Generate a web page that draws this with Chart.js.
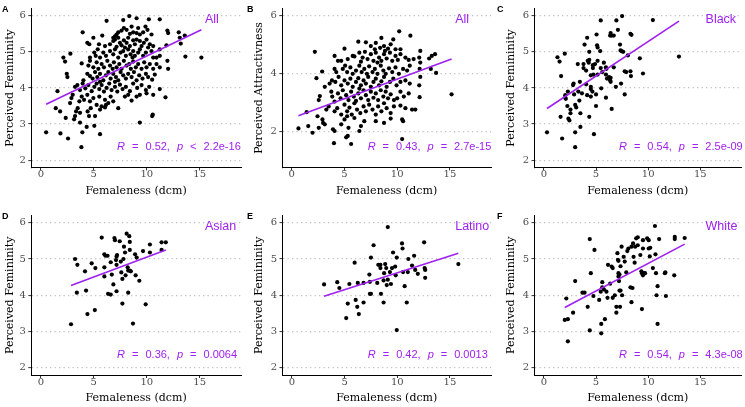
<!DOCTYPE html>
<html><head><meta charset="utf-8">
<script src="https://cdn.jsdelivr.net/npm/chart.js@4"></script>
<style>
html,body{margin:0;padding:0;background:#fff;width:745px;height:407px;overflow:hidden}
#wrap{position:relative;width:745px;height:407px;background:#fff}
canvas{position:absolute}
</style>
</head><body><div id="wrap"></div>
<script>
// ---------- DATA ----------
const xTicks = [0, 5, 10, 15];
const femTicks = [2, 3, 4, 5, 6];
const attrTicks = [2, 4, 6];
const groups = ['All', 'All', 'Black', 'Asian', 'Latino', 'White'];
const rVals = ['0.52', '0.43', '0.54', '0.36', '0.42', '0.54'];
const pOps = ['<', '=', '=', '=', '=', '='];
const pVals = ['2.2e-16', '2.7e-15', '2.5e-09', '0.0064', '0.0013', '4.3e-08'];

const allFem = [[6.21,5.86],[7.78,5.88],[8.35,5.99],[9.04,5.93],[10.20,5.90],[11.23,5.90],
[3.95,5.54],[5.80,5.45],[7.15,5.48],[7.31,5.54],[7.62,5.59],[7.84,5.66],[8.10,5.61],[8.41,5.50],[8.72,5.54],[9.04,5.52],[9.35,5.48],[9.66,5.54],[9.88,5.70],[10.07,5.61],[10.45,5.48],[11.95,5.59],[12.02,5.52],[13.02,5.54],[13.59,5.45],[7.00,5.43],[6.84,5.39],[8.57,5.70],[9.19,5.66],
[4.39,5.25],[4.58,5.21],[4.96,5.39],[5.49,5.21],[6.06,5.16],[6.53,5.21],[6.84,5.30],[7.00,5.34],[7.31,5.39],[7.47,5.25],[7.62,5.18],[7.84,5.32],[8.10,5.25],[8.25,5.39],[8.41,5.16],[8.72,5.32],[8.88,5.21],[9.04,5.34],[9.35,5.30],[9.51,5.16],[9.73,5.25],[9.98,5.34],[10.29,5.21],[10.61,5.16],[11.23,5.07],[11.86,5.18],[13.12,5.39],[13.21,5.23],[7.15,5.14],[7.94,5.12],
[2.13,4.84],[2.79,4.95],[5.05,4.98],[5.18,4.89],[5.37,5.07],[5.59,4.84],[5.90,4.98],[6.15,4.89],[6.53,5.02],[6.84,4.93],[7.00,5.07],[7.31,4.84],[7.53,4.98],[7.78,5.02],[8.03,4.89],[8.25,5.07],[8.47,4.93],[8.72,5.02],[8.88,4.89],[9.19,4.98],[9.35,5.07],[9.66,4.89],[9.92,4.98],[10.13,5.12],[10.45,5.02],[10.61,4.84],[10.92,4.84],[13.65,4.87],[15.16,4.84],[11.23,4.89],[8.66,4.84],
[2.29,4.73],[3.86,4.68],[4.49,4.62],[4.64,4.75],[4.96,4.57],[5.27,4.71],[5.43,4.53],[5.74,4.66],[5.96,4.57],[6.28,4.75],[6.53,4.62],[6.78,4.53],[6.90,4.71],[7.15,4.57],[7.41,4.66],[7.62,4.53],[7.84,4.75],[8.10,4.62],[8.35,4.66],[8.50,4.53],[8.72,4.73],[8.97,4.57],[9.19,4.66],[9.51,4.53],[9.76,4.71],[9.98,4.57],[10.29,4.66],[10.61,4.53],[10.92,4.66],[11.23,4.57],[11.95,4.75],[12.02,4.53],[4.64,4.84],
[2.45,4.39],[2.51,4.30],[4.02,4.21],[4.39,4.39],[4.64,4.33],[4.89,4.26],[5.12,4.44],[5.33,4.30],[5.59,4.39],[5.90,4.21],[6.15,4.35],[6.37,4.44],[6.59,4.26],[6.84,4.39],[7.09,4.30],[7.31,4.21],[7.53,4.44],[7.78,4.35],[8.03,4.26],[8.25,4.39],[8.57,4.30],[8.79,4.44],[9.04,4.21],[9.29,4.35],[9.60,4.26],[9.92,4.39],[10.13,4.30],[10.51,4.23],[10.76,4.37],[5.59,4.17],[7.00,4.17],
[1.57,3.91],[3.23,4.03],[3.45,4.08],[3.70,3.94],[3.95,4.12],[4.20,3.99],[4.49,4.08],[4.80,3.91],[5.05,4.03],[5.27,4.12],[5.52,3.97],[5.74,4.08],[5.96,3.90],[6.21,4.00],[6.46,4.12],[6.68,3.94],[7.00,4.03],[7.22,3.90],[7.47,4.09],[7.72,3.97],[8.03,4.03],[8.41,3.91],[8.72,4.12],[9.10,4.00],[9.51,4.08],[9.92,3.94],[10.23,4.03],[11.23,3.97],
[2.76,3.58],[2.89,3.72],[3.01,3.81],[3.64,3.63],[3.86,3.76],[4.08,3.67],[4.39,3.81],[4.64,3.63],[4.96,3.72],[5.27,3.53],[5.52,3.76],[5.74,3.49],[6.06,3.67],[6.37,3.58],[6.59,3.76],[6.84,3.63],[7.31,3.44],[7.94,3.76],[8.25,3.81],[8.57,3.65],[9.04,3.76],[9.35,3.81],[9.98,3.85],[11.77,3.74],[10.61,3.81],
[1.41,3.44],[1.82,3.35],[2.35,3.17],[3.14,3.13],[3.23,3.22],[3.33,3.35],[3.48,3.44],[3.70,3.31],[4.42,3.35],[4.55,3.22],[4.71,3.44],[5.12,3.22],[5.59,3.40],[6.06,3.46],[6.15,3.53],[10.51,3.22],[10.57,3.26],
[0.50,2.77],[1.85,2.74],[2.57,2.60],[3.83,2.36],[3.92,2.77],[5.59,2.72],[5.05,2.95],[4.33,2.92],[9.35,3.04],[3.70,3.04]];

const allAttr = [[7.03,5.08],[7.50,4.95],[7.97,5.06],[8.38,4.89],[8.50,5.23],[8.75,4.95],[9.13,4.86],[9.38,5.01],[9.84,4.84],[10.19,5.46],[11.25,5.31],[5.00,4.86],[6.31,5.10],[9.63,5.18],[10.31,4.84],[7.88,4.84],[8.84,4.78],
[4.06,4.61],[4.38,4.44],[4.69,4.44],[5.31,4.50],[5.78,4.61],[5.94,4.59],[6.41,4.72],[6.72,4.55],[6.94,4.75],[7.19,4.50],[7.50,4.67],[7.75,4.44],[7.97,4.72],[8.28,4.55],[8.50,4.44],[8.75,4.67],[9.00,4.52],[9.31,4.72],[9.53,4.44],[9.84,4.61],[10.06,4.47],[10.31,4.67],[10.78,4.55],[11.09,4.47],[11.56,4.50],[12.19,4.78],[12.09,4.55],[12.19,4.38],[13.03,4.52],[13.28,4.61],[13.59,4.67],[2.19,4.75],[6.56,4.41],[8.13,4.38],
[2.88,4.07],[4.22,4.05],[4.84,4.16],[5.06,4.27],[5.25,4.05],[5.56,4.21],[5.78,3.99],[6.09,4.10],[6.41,4.27],[6.63,4.05],[6.88,4.16],[7.13,3.99],[7.34,4.25],[7.66,4.05],[7.88,4.16],[8.13,3.99],[8.44,4.27],[8.69,4.10],[8.91,3.99],[9.22,4.18],[9.53,4.05],[9.84,4.21],[10.16,3.99],[10.56,4.16],[10.94,4.10],[11.19,4.27],[12.13,4.16],[13.19,4.16],[13.69,4.02],[4.06,4.16],
[2.34,3.84],[3.13,3.54],[3.59,3.65],[3.81,3.76],[4.13,3.71],[4.44,3.88],[4.69,3.59],[5.00,3.76],[5.31,3.65],[5.56,3.82],[5.78,3.54],[6.09,3.71],[6.31,3.84],[6.56,3.59],[6.81,3.76],[7.03,3.65],[7.25,3.88],[7.50,3.54],[7.75,3.71],[7.97,3.82],[8.28,3.59],[8.50,3.73],[8.75,3.88],[9.00,3.54],[9.31,3.71],[9.63,3.82],[9.94,3.59],[10.31,3.71],[10.78,3.76],[11.19,3.65],[12.19,3.88],[12.09,3.59],[6.41,3.48],
[2.56,3.08],[2.66,3.22],[3.75,3.37],[3.84,3.20],[4.06,3.03],[4.38,3.31],[4.63,3.14],[4.84,3.42],[5.16,3.25],[5.38,3.08],[5.63,3.37],[5.88,3.20],[6.09,3.05],[6.31,3.31],[6.56,3.14],[6.81,3.42],[7.03,3.25],[7.25,3.08],[7.50,3.37],[7.75,3.16],[7.97,3.31],[8.19,3.08],[8.44,3.42],[8.69,3.20],[8.91,3.37],[9.13,3.14],[9.38,3.28],[9.69,3.08],[10.00,3.14],[10.31,3.37],[10.63,3.20],[11.09,3.31],[12.13,3.18],[15.16,3.28],
[3.28,2.75],[3.50,2.86],[2.44,2.52],[4.06,2.69],[4.31,2.80],[4.69,2.58],[5.00,2.92],[5.25,2.69],[5.47,2.82],[5.69,2.58],[5.94,2.97],[6.19,2.75],[6.50,2.63],[6.81,2.86],[7.03,2.69],[7.34,2.92],[7.66,2.75],[7.97,2.58],[8.19,2.86],[8.50,2.69],[8.75,2.97],[9.00,2.80],[9.38,2.63],[9.69,2.86],[10.31,2.89],[10.78,2.80],[11.41,2.75],[11.72,2.75],[1.41,2.66],[5.25,2.52],
[0.63,2.10],[1.56,2.18],[1.97,1.95],[2.56,2.12],[2.91,2.41],[2.97,2.29],[3.13,2.24],[3.91,2.07],[4.06,2.01],[4.69,2.24],[5.00,2.41],[5.38,2.12],[6.41,2.01],[6.56,2.18],[6.88,2.35],[7.97,2.35],[8.75,2.29],[9.38,2.44],[10.47,2.41],[10.56,2.35],[5.94,2.46],
[4.00,1.59],[5.16,1.79],[5.31,1.84],[5.63,1.56],[10.47,1.73]];

const black = [[0.3,2.77],[1.3,4.85],[1.5,4.73],[1.65,4.33],[1.6,3.2],[1.75,2.6],[2.0,4.95],[2.05,3.8],[2.05,3.73],[2.1,3.7],[2.3,3.9],[2.25,3.5],[2.35,3.15],[2.45,3.1],[2.55,3.4],[2.55,3.3],[2.8,4.08],[2.85,4.12],[2.9,3.82],[3.0,3.53],[3.1,3.46],[3.0,2.77],[3.0,2.36],[3.25,4.66],[3.3,3.9],[3.4,3.65],[3.45,4.17],[3.5,3.3],[3.5,2.92],[3.65,3.85],[3.8,4.66],[3.8,4.55],[3.9,5.2],[4.05,4.48],[4.05,4.1],[4.15,5.39],[4.15,3.8],[4.2,4.75],[4.3,4.7],[4.35,4.78],[4.35,5.0],[4.35,3.2],[4.5,4.03],[4.5,3.97],[4.5,4.35],[4.5,3.76],[4.65,3.9],[4.7,4.63],[4.7,4.55],[4.8,2.72],[4.75,4.37],[4.9,4.66],[5.0,3.82],[5.0,3.5],[5.05,5.48],[5.1,5.18],[5.15,5.12],[5.15,4.75],[5.15,4.37],[5.4,5.02],[5.45,5.87],[5.45,4.55],[5.5,3.99],[5.6,4.44],[5.75,4.7],[5.95,4.57],[6.0,4.53],[5.95,4.37],[5.95,3.73],[6.05,4.26],[6.25,4.3],[6.35,4.21],[6.4,4.28],[6.35,5.45],[6.4,5.52],[6.5,5.45],[6.4,4.17],[6.5,3.42],[6.7,4.57],[6.7,5.45],[6.9,4.03],[6.95,5.87],[7.1,5.61],[7.3,5.2],[7.35,5.04],[7.45,5.02],[7.4,4.12],[7.5,5.99],[7.6,5.0],[7.75,3.82],[7.75,4.46],[7.9,4.44],[8.05,4.9],[8.3,4.46],[8.3,5.5],[8.4,5.47],[8.35,4.33],[9.2,4.82],[9.5,4.4],[10.45,5.88],[12.95,4.87]];

const asian = [[2.85,3.2],[3.23,5.0],[3.45,4.84],[3.4,4.07],[4.17,4.66],[4.27,4.13],[4.4,3.48],[4.8,4.88],[5.1,3.59],[5.15,4.75],[5.75,5.59],[6.0,5.13],[6.1,5.09],[6.3,5.09],[6.0,4.77],[6.0,4.52],[6.35,4.04],[6.6,4.02],[6.6,4.91],[6.7,4.57],[6.85,4.3],[6.95,5.58],[7.0,5.52],[7.1,4.97],[7.15,5.07],[7.15,4.84],[7.2,5.11],[7.15,4.11],[7.45,5.49],[7.55,4.93],[7.6,4.63],[7.7,3.77],[7.8,5.0],[7.7,4.45],[7.85,5.34],[7.95,5.18],[8.0,4.55],[8.1,5.7],[8.2,4.77],[8.25,4.68],[8.25,4.07],[8.35,5.63],[8.4,5.47],[8.4,5.25],[8.4,4.68],[8.5,4.66],[8.7,3.22],[8.9,5.13],[8.95,4.55],[9.05,5.04],[9.3,4.4],[9.65,5.22],[9.9,3.75],[10.3,5.18],[10.3,5.4],[11.4,5.46],[11.4,5.25],[11.8,5.46]];

const latino = [[3.05,4.3],[4.3,4.36],[4.5,4.2],[5.15,3.37],[5.3,3.77],[5.45,4.31],[5.95,4.9],[6.05,3.87],[6.2,3.68],[6.25,4.34],[6.35,3.48],[6.8,4.34],[6.8,3.8],[7.35,4.57],[7.4,4.37],[7.4,4.04],[7.5,4.04],[7.5,5.04],[7.75,5.38],[8.1,4.34],[8.2,4.84],[8.4,4.84],[8.4,4.75],[8.45,4.04],[8.7,3.8],[8.7,4.41],[8.75,4.61],[8.85,4.86],[8.95,4.75],[9.0,4.28],[9.1,5.88],[9.1,4.43],[9.3,4.64],[9.4,4.31],[9.5,4.75],[9.6,5.18],[9.8,4.79],[9.85,4.55],[9.95,5.04],[9.95,3.04],[10.45,5.43],[10.5,5.29],[10.55,4.64],[10.7,4.25],[10.9,3.8],[11.0,4.64],[11.05,5.0],[11.4,4.82],[11.6,5.09],[11.7,4.7],[11.95,4.59],[12.55,5.46],[12.6,4.75],[12.65,4.7],[12.65,4.48],[15.8,4.86]];

const white = [[2.0,3.32],[2.15,3.91],[2.3,3.34],[2.3,2.73],[2.8,3.52],[3.0,4.39],[3.7,4.07],[3.9,4.07],[4.2,3.68],[4.4,5.55],[4.4,3.03],[4.5,4.61],[4.75,3.98],[4.85,5.25],[5.3,3.87],[5.45,4.1],[5.5,2.95],[5.5,3.21],[5.6,4.36],[5.6,4.22],[5.75,4.16],[5.85,3.34],[6.0,4.1],[6.1,3.93],[6.15,4.84],[6.35,4.32],[6.5,4.79],[6.6,4.75],[6.6,3.93],[6.8,4.0],[6.95,3.52],[6.95,3.68],[7.05,5.16],[7.1,4.98],[7.15,4.95],[7.15,4.61],[7.15,4.52],[7.25,4.57],[7.2,4.39],[7.25,4.13],[7.35,4.13],[7.3,3.68],[7.35,4.8],[7.45,5.34],[7.5,4.0],[7.65,5.06],[7.75,4.93],[7.9,4.63],[8.0,5.22],[8.1,5.29],[8.3,4.22],[8.4,5.34],[8.4,3.81],[8.5,4.2],[8.55,5.43],[8.6,5.06],[8.7,4.9],[8.75,5.34],[8.85,5.57],[9.0,5.6],[9.0,5.38],[9.25,5.11],[9.35,4.66],[9.4,4.61],[9.4,3.62],[9.5,5.52],[9.5,5.29],[9.5,4.55],[9.6,4.61],[9.7,4.61],[9.9,5.57],[10.05,5.52],[10.05,5.29],[10.2,5.31],[10.15,5.07],[10.45,4.75],[10.65,5.91],[10.7,5.13],[10.75,4.61],[10.8,4.0],[10.9,4.25],[10.9,3.21],[11.05,5.55],[11.6,4.61],[11.65,4.63],[11.7,3.98],[12.5,4.55],[12.55,5.61],[12.55,5.55],[13.5,5.58]];

// regression line end points
const fitAll = [[0.5,3.55],[15.16,5.61]];
const fitAttr = [[0.63,2.54],[15.16,4.50]];
const fitBlack = [[0.3,3.43],[12.95,5.85]];
const fitAsian = [[2.85,4.27],[11.8,5.25]];
const fitLatino = [[3.05,3.97],[15.8,5.16]];
const fitWhite = [[2.0,3.66],[13.5,5.41]];

// ---------- LAYOUT ----------
const PURPLE = '#A020F0';
const SERIF = "'DejaVu Serif', serif";
const SANS = "'Liberation Sans', Arial, sans-serif";
const panels = [
  {letter:'A', pts:allFem, fit:fitAll, yt:femTicks, ymin:1.8, ymax:6.2, ytitle:'Perceived Femininity', g:0, cx:0, cy:0, w:245, h:200, l:31.3, r:241, t:4.9, b:167.4, tp:4},
  {letter:'B', pts:allAttr, fit:fitAttr, yt:attrTicks, ymin:0.75, ymax:6.25, ytitle:'Perceived Attractivness', g:1, cx:245, cy:0, w:250, h:200, l:37.3, r:248.4, t:4.9, b:167.4, tp:7.5},
  {letter:'C', pts:black, fit:fitBlack, yt:femTicks, ymin:1.8, ymax:6.2, ytitle:'Perceived Femininity', g:2, cx:495, cy:0, w:250, h:200, l:39.5, r:249, t:4.9, b:167.4, tp:9.5},
  {letter:'D', pts:asian, fit:fitAsian, yt:femTicks, ymin:1.8, ymax:6.2, ytitle:'Perceived Femininity', g:3, cx:0, cy:207, w:245, h:200, l:31.3, r:241, t:6.3, b:168, tp:4},
  {letter:'E', pts:latino, fit:fitLatino, yt:femTicks, ymin:1.8, ymax:6.2, ytitle:'Perceived Femininity', g:4, cx:245, cy:207, w:250, h:200, l:37.5, r:248.4, t:6.3, b:168, tp:7.5},
  {letter:'F', pts:white, fit:fitWhite, yt:femTicks, ymin:1.8, ymax:6.2, ytitle:'Perceived Femininity', g:5, cx:495, cy:207, w:250, h:200, l:39.5, r:249, t:6.3, b:168, tp:9.5}
];

const annot = {
  id: 'annot',
  afterDatasetsDraw(chart, args, o) {
    const ctx = chart.ctx, xs = chart.scales.x, ca = chart.chartArea;
    ctx.save();
    ctx.textBaseline = 'middle'; ctx.textAlign = 'left';
    ctx.fillStyle = PURPLE;
    ctx.font = '12.5px ' + SANS;
    ctx.fillText(o.group, xs.getPixelForValue(15.5), ca.top + 11.5);
    let x = xs.getPixelForValue(7.2);
    const y = ca.bottom - 20.5;
    const segs = [['R', true], ['=', false], [o.r + ',', false], ['p', true], [o.op, false], [o.p, false]];
    for (const [t, it] of segs) {
      ctx.font = (it ? 'italic ' : '') + '11px ' + SANS;
      ctx.fillText(t, x, y);
      x += ctx.measureText(t).width + 7;
    }
    ctx.fillStyle = '#000';
    ctx.font = 'bold 9px ' + SANS;
    ctx.fillText(o.letter, 2, ca.top + 1);
    ctx.restore();
  }
};

const wrap = document.getElementById('wrap');
panels.forEach(p => {
  const cv = document.createElement('canvas');
  cv.width = p.w; cv.height = p.h;
  cv.style.left = p.cx + 'px'; cv.style.top = p.cy + 'px';
  cv.style.width = p.w + 'px'; cv.style.height = p.h + 'px';
  wrap.appendChild(cv);
  new Chart(cv, {
    type: 'scatter',
    data: {
      datasets: [
        {type: 'line', data: p.fit.map(d => ({x: d[0], y: d[1]})), borderColor: PURPLE, borderWidth: 1.6, pointRadius: 0, fill: false, order: 0},
        {data: p.pts.map(d => ({x: d[0], y: d[1]})), backgroundColor: '#000', borderWidth: 0, pointRadius: 2.1, order: 1}
      ]
    },
    options: {
      responsive: false, animation: false, devicePixelRatio: 1,
      layout: {padding: {top: p.t, right: p.w - p.r, left: 0, bottom: 0}},
      plugins: {
        legend: {display: false}, tooltip: {enabled: false},
        annot: {group: groups[p.g], r: rVals[p.g], op: pOps[p.g], p: pVals[p.g], letter: p.letter}
      },
      scales: {
        x: {
          type: 'linear', min: -0.9, max: 18.9,
          afterBuildTicks: s => { s.ticks = xTicks.map(v => ({value: v})); },
          afterFit: s => { s.height = p.h - p.b; },
          grid: {drawOnChartArea: false, drawTicks: true, tickLength: 3, tickColor: '#333', tickWidth: 1},
          border: {display: true, color: '#000', width: 1},
          ticks: {font: {family: SERIF, size: 10}, color: '#4d4d4d', padding: -2, maxRotation: 0, autoSkip: false},
          title: {display: true, text: 'Femaleness (dcm)', font: {family: SERIF, size: 11}, color: '#000', padding: {top: 0, bottom: 2}}
        },
        y: {
          type: 'linear', min: p.ymin, max: p.ymax,
          afterBuildTicks: s => { s.ticks = p.yt.map(v => ({value: v})); },
          afterFit: s => { s.width = p.l; },
          grid: {color: '#c2c2c2', lineWidth: 1.2, drawTicks: true, tickLength: 3, tickColor: '#333', tickWidth: 1},
          border: {display: true, color: '#000', width: 1, dash: [1.3, 3.2]},
          ticks: {font: {family: SERIF, size: 10}, color: '#4d4d4d', padding: 2.5, autoSkip: false},
          title: {display: true, text: p.ytitle, font: {family: SERIF, size: 11}, color: '#000', padding: {top: p.tp, bottom: 0}}
        }
      }
    },
    plugins: [annot]
  });
});
</script>
</body></html>
